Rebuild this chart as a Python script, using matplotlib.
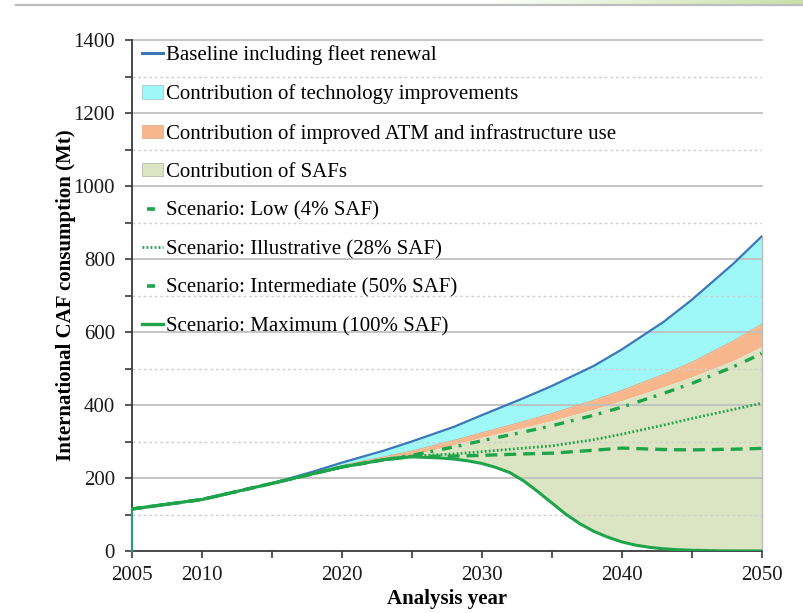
import matplotlib
matplotlib.use("Agg")
import matplotlib.pyplot as plt
import numpy as np
from matplotlib.lines import Line2D
from matplotlib.patches import Patch

plt.rcParams['font.family'] = ['Liberation Serif', 'DejaVu Serif']
plt.rcParams['lines.scale_dashes'] = False

# ---------------- data ----------------
years = [2005, 2010, 2015, 2018, 2020, 2023, 2025, 2028, 2030, 2033, 2035,
         2038, 2040, 2043, 2045, 2048, 2050]
baseline = [115, 141, 185, 218, 242, 275, 300, 340, 372, 419, 452,
            507, 552, 628, 688, 788, 862]
after_tech = [115, 141, 185, 214, 234, 258, 274, 303, 324, 355, 377,
              413, 440, 484, 517, 576, 622]
after_atm = [115, 141, 185, 212, 230, 252, 264, 291, 311, 338, 357,
             388, 412, 450, 477, 522, 560]
low = [115, 141, 185, 212, 230, 250, 262, 285, 302, 326, 343,
       372, 394, 432, 459, 505, 541]
illustrative = [115, 141, 185, 212, 230, 250, 260, 266, 272, 282, 288,
                305, 320, 345, 363, 388, 405]
intermediate = [115, 141, 185, 212, 230, 250, 259, 260, 262, 266, 268,
                276, 282, 278, 277, 279, 281]
years_max = [2005, 2010, 2015, 2018, 2020, 2023, 2025, 2027, 2028, 2029, 2030,
             2031, 2032, 2033, 2034, 2035, 2036, 2037, 2038, 2039, 2040,
             2041, 2042, 2043, 2044, 2045, 2047, 2050]
maximum = [115, 141, 185, 212, 230, 250, 258, 255, 252, 247, 240,
           229, 215, 192, 163, 132, 101, 75, 54, 38, 25,
           16, 10, 6, 3.5, 2, 0.5, 0]

xticks_major = [2005, 2010, 2020, 2030, 2040, 2050]
xticks_minor = [2015, 2025, 2035, 2045]
yticks_major = list(range(0, 1401, 200))
yticks_minor = list(range(100, 1400, 200))

labels = ["Baseline including fleet renewal",
          "Contribution of technology improvements",
          "Contribution of improved ATM and infrastructure use",
          "Contribution of SAFs",
          "Scenario: Low (4% SAF)",
          "Scenario: Illustrative (28% SAF)",
          "Scenario: Intermediate (50% SAF)",
          "Scenario: Maximum (100% SAF)"]

# ---------------- style ----------------
C_BLUE = '#3b78b9'
C_CYAN = '#9ef8f8'
C_ORANGE = '#f7b68c'
C_OLIVE = '#dce5c3'
C_GREEN = '#1fa44c'
C_GRID = '#c0c0c0'
C_AXIS = '#3a3a3a'
FS = 15

fig = plt.figure(figsize=(8.04, 6.13), dpi=100)
ax = fig.add_axes([131.7 / 804, 1 - 551 / 613, 630 / 804, 511 / 613])

# fills
ax.fill_between(years, after_tech, baseline, color=C_CYAN, lw=0, zorder=1)
ax.fill_between(years, after_atm, after_tech, color=C_ORANGE, lw=0, zorder=1)
yy = sorted(set(years) | set(years_max))
ax.fill_between(yy, np.interp(yy, years_max, maximum), np.interp(yy, years, after_atm),
                color=C_OLIVE, lw=0, zorder=1)

# grid lines (drawn above fills)
for v in yticks_major[1:]:
    ax.axhline(v, color=C_GRID, lw=1.3, zorder=1.5, clip_on=False)
for v in yticks_minor:
    ax.axhline(v, color='#d0d0d0', lw=1.0, ls=(0, (2, 2)), zorder=1.5)

# edges of the stacked area
ax.plot([2005, 2005], [0, baseline[0]], color='#2a9a7a', lw=1.6, zorder=2.5, clip_on=False)
ax.plot([2050, 2050], [0, baseline[-1]], color='#bcbcbc', lw=1.0, zorder=1.6, clip_on=False)

# lines
ax.plot(years, baseline, color=C_BLUE, lw=1.6, zorder=3)
ax.plot(years, after_tech, color='#f0a070', lw=0.6, zorder=2)
ax.plot(years, low, color=C_GREEN, lw=2.4, ls=(0, (7.2, 5, 2, 6.5)), zorder=3)
ax.plot(years, illustrative, color=C_GREEN, lw=2.0, ls=(0, (1.3, 1.6)), zorder=3)
ax.plot(years, intermediate, color=C_GREEN, lw=2.4, ls=(0, (8.6, 5)), zorder=3)
ax.plot(years_max, maximum, color=C_GREEN, lw=2.2, zorder=3.2)

# axes
ax.set_xlim(2005, 2050)
ax.set_ylim(0, 1400)
for s in ['top', 'right']:
    ax.spines[s].set_visible(False)
for s in ['left', 'bottom']:
    ax.spines[s].set_color(C_AXIS)
    ax.spines[s].set_linewidth(1.3)
    ax.spines[s].set_zorder(2.4)
ax.set_xticks(xticks_major)
ax.set_xticks(xticks_minor, minor=True)
ax.set_yticks(yticks_major)
ax.set_yticks(yticks_minor, minor=True)
ax.tick_params(which='both', direction='out', length=5, width=1.2, color=C_AXIS,
               labelsize=FS, labelcolor='#1a1a1a')
ax.tick_params(axis='y', pad=7)
ax.tick_params(axis='x', pad=6)
ax.set_xlabel("Analysis year", fontsize=FS, fontweight='bold', labelpad=3)
ax.set_ylabel("International CAF consumption (Mt)", fontsize=FS, fontweight='bold', labelpad=-2)

# legend (proxy handles)
handles = [
    Line2D([], [], color=C_BLUE, lw=2.2),
    Patch(facecolor=C_CYAN, edgecolor='#a8c8c8', lw=0.6),
    Patch(facecolor=C_ORANGE, edgecolor='#e0b090', lw=0.6),
    Patch(facecolor=C_OLIVE, edgecolor='#b8b8b0', lw=0.6),
    Line2D([], [], color=C_GREEN, lw=2.6, ls=(10.8, (5.8, 8.6))),
    Line2D([], [], color=C_GREEN, lw=2.0, ls=(0, (1.3, 1.6))),
    Line2D([], [], color=C_GREEN, lw=2.6, ls=(10.8, (5.8, 8.6))),
    Line2D([], [], color=C_GREEN, lw=2.4),
]
leg = ax.legend(handles, labels, loc='upper left', bbox_to_anchor=(0.016, 0.990),
                frameon=False, fontsize=FS, handlelength=1.0, handleheight=0.6,
                handletextpad=0.15, labelspacing=0.93, borderpad=0.0, borderaxespad=0.0)
leg.set_zorder(5)

# screenshot decorations
fig.add_artist(Line2D([0.02, 1.0], [1 - 5 / 613, 1 - 5 / 613], color='#bdbdbd', lw=1.6))
gax = fig.add_axes([480 / 804, 1 - 4 / 613, 324 / 804, 4 / 613])
grad = np.linspace(0, 1, 256)[None, :]
gax.imshow(grad, aspect='auto', cmap=matplotlib.colors.LinearSegmentedColormap.from_list(
    'g', ['#ffffff', '#e4f0d2', '#c9e0a8']))
gax.axis('off')

fig.savefig("out.png", dpi=100)
